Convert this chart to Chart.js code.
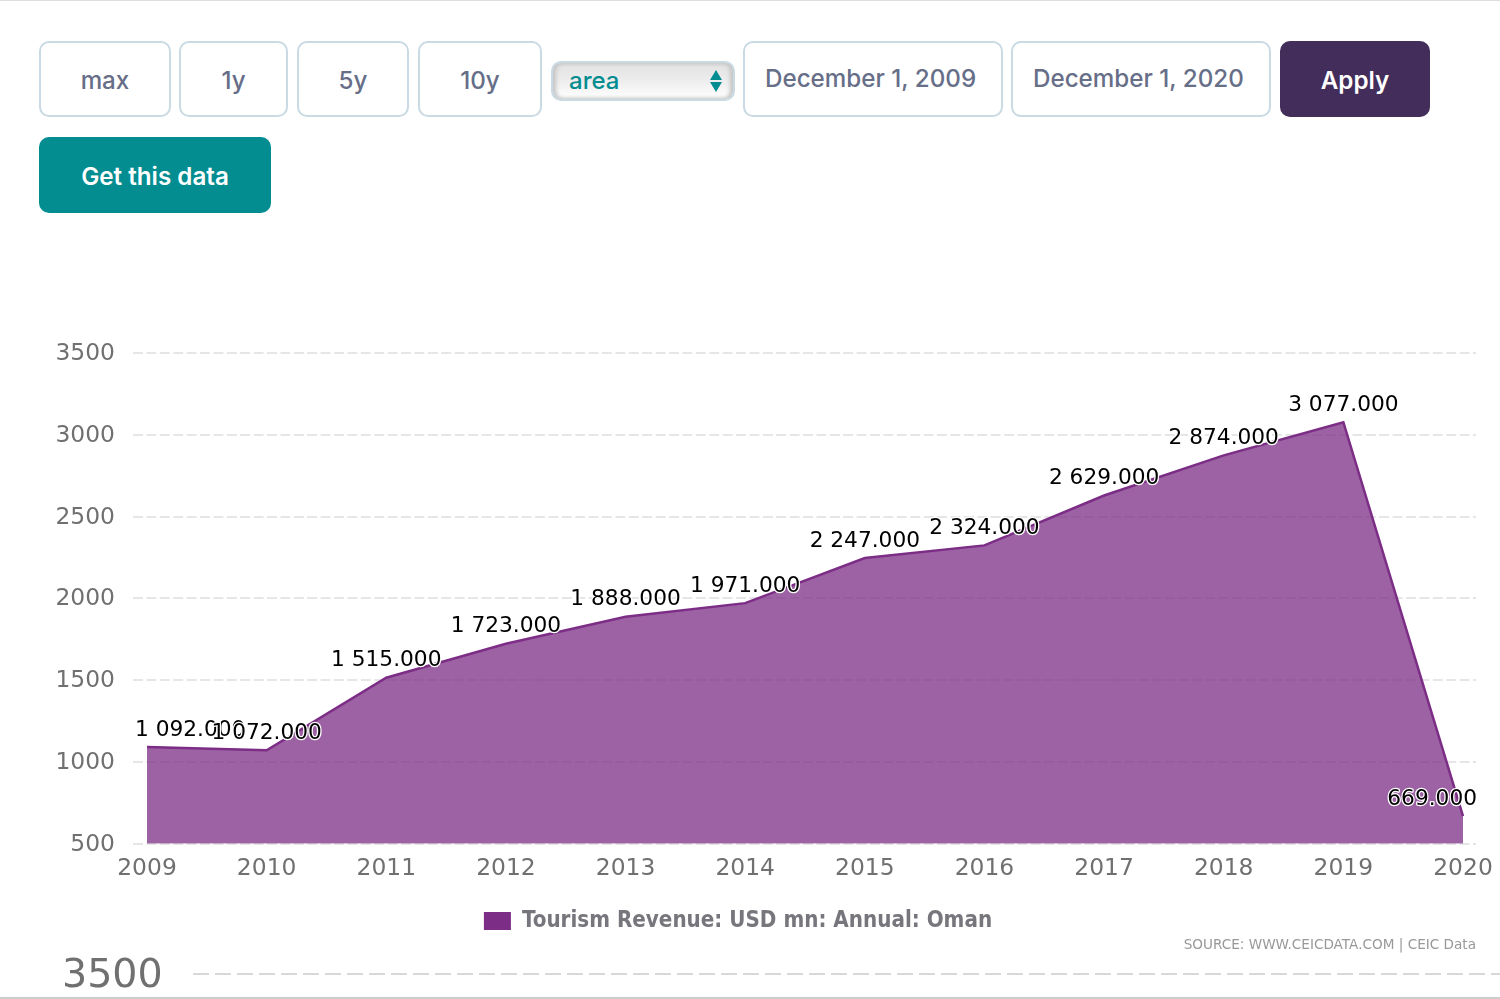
<!DOCTYPE html>
<html>
<head>
<meta charset="utf-8">
<title>Tourism Revenue: Oman</title>
<script src="https://cdn.jsdelivr.net/npm/chart.js@4"></script>
<style>
html, body { margin: 0; padding: 0; background: #fff; }
body { position: relative; width: 1500px; height: 999px; overflow: hidden; font-family: Inter, sans-serif; }
#chart { position: absolute; left: 0; top: 0; }
.btn { position: absolute; box-sizing: border-box; top: 41px; height: 76px; padding-top: 2px; border: 2px solid #c9dae4; border-radius: 10px; background: #fff;
       color: #666e88; font-size: 24.2px; font-weight: 500; display: flex; align-items: center; justify-content: center; }
.date { padding: 0 0 2px 20px; justify-content: flex-start; }
.solid { border: 0; color: #fff; font-weight: 600; }
#type { position: absolute; left: 551px; top: 61px; width: 184px; height: 40px; box-sizing: border-box; border: 2px solid #c9dae4; border-radius: 10px;
        background: linear-gradient(#e2e2e2, #ececec 45%, #fff); box-shadow: inset 3px 0 4px #c4c4c4, inset -3px 0 4px #c4c4c4;
        color: #038d91; font: 500 24px Inter, sans-serif; padding: 0 0 2px 16px; appearance: none; -webkit-appearance: none; }
.arrow { position: absolute; left: 710px; width: 0; height: 0; border-left: 6px solid transparent; border-right: 6px solid transparent; }
#source { position: absolute; right: 24px; top: 936px; font: 13.6px "DejaVu Sans", sans-serif; color: #999; }
#nextTick { position: absolute; left: 62px; top: 950px; font: 39.6px "DejaVu Sans", sans-serif; color: #707070; }
#nextGrid { position: absolute; left: 193px; right: 0; top: 973px; height: 2px; background: repeating-linear-gradient(90deg, #d8d8d8 0 16px, transparent 16px 22px); }
#topRule { position: absolute; left: 0; right: 0; top: 0; height: 1px; background: #ddd; }
#bottomRule { position: absolute; left: 0; right: 0; top: 997px; height: 2px; background: #ccc; }
</style>
</head>
<body>
<div id="topRule"></div>
<div class="btn" style="left:39px;width:132px">max</div>
<div class="btn" style="left:179px;width:109px">1y</div>
<div class="btn" style="left:297px;width:112px">5y</div>
<div class="btn" style="left:418px;width:124px">10y</div>
<select id="type"><option>area</option></select>
<div class="arrow" style="top:70px;border-bottom:10px solid #038d91"></div>
<div class="arrow" style="top:82px;border-top:10px solid #038d91"></div>
<div class="btn date" style="left:743px;width:260px">December 1, 2009</div>
<div class="btn date" style="left:1011px;width:260px">December 1, 2020</div>
<div class="btn solid" style="left:1280px;width:150px;background:#422d5b">Apply</div>
<div class="btn solid" style="left:39px;top:137px;width:232px;background:#038d91">Get this data</div>
<canvas id="chart" width="1500" height="999"></canvas>
<div id="source">SOURCE: WWW.CEICDATA.COM | CEIC Data</div>
<div id="nextTick">3500</div>
<div id="nextGrid"></div>
<div id="bottomRule"></div>
<script>
const years = [2009, 2010, 2011, 2012, 2013, 2014, 2015, 2016, 2017, 2018, 2019, 2020];
const revenue = [1092, 1072, 1515, 1723, 1888, 1971, 2247, 2324, 2629, 2874, 3077, 669];
const yTicks = [500, 1000, 1500, 2000, 2500, 3000, 3500];
const seriesName = 'Tourism Revenue: USD mn: Annual: Oman';

const tickFont = { family: 'DejaVu Sans', size: 23.4 };

function formatValue(v) {
    const fixed = v.toFixed(3);
    const parts = fixed.split('.');
    return parts[0].replace(/\B(?=(\d{3})+$)/g, ' ') + '.' + parts[1];
}

// value labels sit above each point, pushed back inside the plot at the edges
const valueLabels = {
    id: 'valueLabels',
    afterDatasetsDraw(chart) {
        const ctx = chart.ctx;
        const points = chart.getDatasetMeta(0).data;
        ctx.save();
        ctx.font = '21.7px "DejaVu Sans"';
        ctx.textAlign = 'center';
        ctx.textBaseline = 'middle';
        ctx.lineJoin = 'round';
        points.forEach(function(pt, i) {
            const text = formatValue(revenue[i]);
            const half = ctx.measureText(text).width / 2;
            const x = Math.min(Math.max(pt.x, 135 + half), 1477 - half);
            ctx.lineWidth = 2.5;
            ctx.strokeStyle = '#fff';
            ctx.strokeText(text, x, pt.y - 17);
            ctx.fillStyle = '#000';
            ctx.fillText(text, x, pt.y - 17);
        });
        ctx.restore();
    }
};

new Chart(document.getElementById('chart').getContext('2d'), {
    type: 'line',
    data: {
        datasets: [{
            label: seriesName,
            data: years.map((y, i) => ({ x: y, y: revenue[i] })),
            borderColor: '#7c2d85',
            backgroundColor: 'rgba(124, 45, 133, 0.75)',
            borderWidth: 2.5,
            pointRadius: 0,
            tension: 0,
            fill: 'start'
        }]
    },
    options: {
        responsive: false,
        animation: false,
        layout: { padding: { top: 353, right: 24, bottom: 57, left: 0 } },
        plugins: {
            tooltip: { enabled: false },
            legend: {
                position: 'bottom',
                labels: {
                    font: { family: 'DejaVu Sans Condensed', size: 22.2, weight: 'bold' },
                    boxWidth: 27,
                    boxHeight: 18,
                    padding: 6,
                    generateLabels() {
                        return [{ text: seriesName, fillStyle: '#7c2d85', strokeStyle: '#7c2d85', lineWidth: 0, fontColor: '#76767c', datasetIndex: 0 }];
                    }
                }
            }
        },
        scales: {
            x: {
                type: 'linear',
                min: 2009 - 14 / 119.64,
                max: 2020 + 13 / 119.64,
                afterFit(scale) { scale.height = 60; },
                afterBuildTicks(scale) { scale.ticks = years.map(v => ({ value: v })); },
                grid: { display: false },
                border: { display: false },
                ticks: { color: '#707070', font: tickFont, padding: 3, maxRotation: 0, autoSkip: false, callback: v => String(v) }
            },
            y: {
                min: 500,
                max: 3500,
                afterFit(scale) { scale.width = 133; },
                afterBuildTicks(scale) { scale.ticks = yTicks.map(v => ({ value: v })); },
                grid: { color: '#e6e6e6', lineWidth: 2, drawTicks: false },
                border: { display: false, dash: [10, 3.4] },
                ticks: { color: '#707070', font: tickFont, padding: 18, labelOffset: 1, callback: v => String(v) }
            }
        }
    },
    plugins: [valueLabels]
});
</script>
</body>
</html>
